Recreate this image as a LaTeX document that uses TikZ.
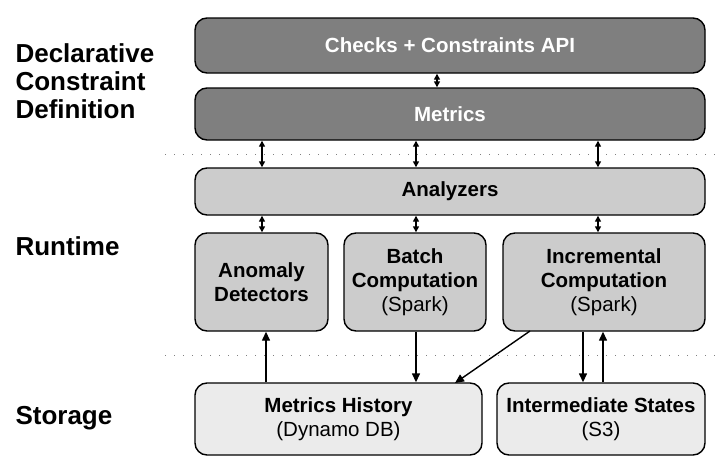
\documentclass[tikz,border=0pt]{standalone}
\usepackage{fontspec}
\setmainfont{Liberation Sans}
\usetikzlibrary{arrows.meta}
\definecolor{dk}{HTML}{7F7F7F}
\definecolor{md}{HTML}{CCCCCC}
\definecolor{lt}{HTML}{EBEBEB}
\begin{document}
\begin{tikzpicture}[x=1pt,y=-1pt,
  box/.style={draw=black,line width=1.4pt,rounded corners=12pt,inner sep=0pt,font=\fontsize{20.5}{24}\selectfont\bfseries,align=center},
  dbox/.style={box,fill=dk,text=white},
  mbox/.style={box,fill=md},
  lbox/.style={box,fill=lt},
  arr/.style={-{Triangle[length=9pt,width=8pt]},line width=1.4pt},
  darr/.style={{Triangle[length=6pt,width=6pt]}-{Triangle[length=6pt,width=6pt]},line width=1.4pt},
  sep/.style={dash pattern=on 1pt off 8pt,line width=1pt,gray},
  side/.style={font=\fontsize{26}{28}\selectfont\bfseries,align=left,anchor=west}]
\useasboundingbox (0,0) rectangle (724,466);
\draw[sep] (165,154) -- (720,154);
\draw[sep] (165,355) -- (720,355);
\node[dbox,minimum width=510pt,minimum height=55pt] (api) at (450,45.5) {Checks + Constraints API};
\node[dbox,minimum width=510pt,minimum height=52pt] (met) at (450,114) {Metrics};
\node[mbox,minimum width=510pt,minimum height=47pt] (ana) at (450,191.5) {Analyzers};
\node[mbox,minimum width=133pt,minimum height=98pt] (ano) at (261.5,282) {Anomaly\\Detectors};
\node[mbox,minimum width=142pt,minimum height=98pt] (bat) at (415,282) {Batch\\Computation\\{\mdseries(Spark)}};
\node[mbox,minimum width=202pt,minimum height=98pt] (inc) at (604,282) {Incremental\\Computation\\{\mdseries(Spark)}};
\node[lbox,minimum width=287pt,minimum height=72pt] (mh) at (338.5,419) {Metrics History\\{\mdseries(Dynamo DB)}};
\node[lbox,minimum width=208pt,minimum height=72pt] (is) at (601,419) {Intermediate States\\{\mdseries(S3)}};
\node[side] (l1) at (12,81) {Declarative\\Constraint\\Definition};
\node[side] (l2) at (12,246) {Runtime};
\node[side] (l3) at (12,418) {Storage};
\draw[darr] (api.south -| 437,0) -- (met.north -| 437,0);
\foreach \x in {262,416,598}{
  \draw[darr] (met.south -| \x,0) -- (ana.north -| \x,0);
  \draw[darr] (ana.south -| \x,0) -- (ano.north -| \x,0);
}
\draw[arr] (mh.north -| 266,0) -- (ano.south -| 266,0);
\draw[arr] (bat.south -| 416,0) -- (mh.north -| 416,0);
\coordinate (d1) at (530,331);
\coordinate (d2) at (455,383);
\draw[arr] (d1) -- (d2);
\draw[arr] (inc.south -| 583,0) -- (is.north -| 583,0);
\draw[arr] (is.north -| 603,0) -- (inc.south -| 603,0);
\end{tikzpicture}
\end{document}
